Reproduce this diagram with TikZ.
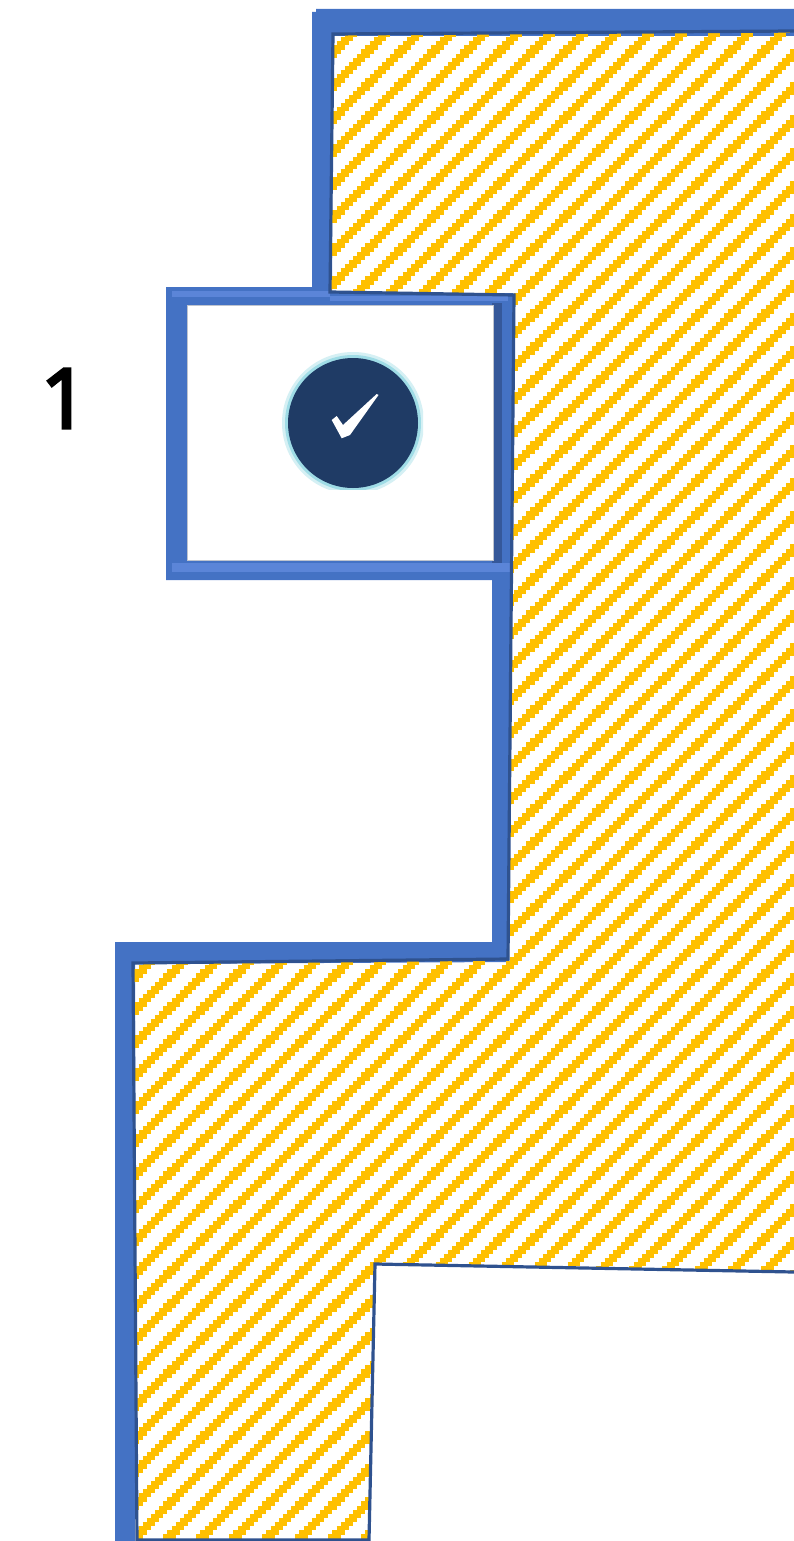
\documentclass[tikz,border=0pt]{standalone}
\usepackage{fontspec}
\setmainfont{Open Sans}
\definecolor{bluefill}{HTML}{4472C4}
\definecolor{blueline}{HTML}{2F528F}
\definecolor{stripe}{HTML}{FFC000}
\definecolor{boxlight}{HTML}{5B85D8}
\definecolor{boxdark}{HTML}{35589A}
\definecolor{navy}{HTML}{1F3B65}
\definecolor{halo}{HTML}{9FDCE6}
\definecolor{halosoft}{HTML}{D5F0F4}
\definecolor{softedge}{HTML}{BFC4CE}
\tikzset{
  wall/.style={fill=bluefill,draw=none},
  outline/.style={draw=blueline,line width=3.2pt,line join=miter},
}
\begin{document}
\begin{tikzpicture}[x=1pt,y=-1pt]
\useasboundingbox (0,0) rectangle (794,1541);
% walls
\fill[wall] (316,9) -- (794,9) -- (794,36) -- (332,36) -- (332,292) -- (312,292) -- (312,12) -- (316,12) -- cycle;
\fill[wall] (492,570) -- (512,570) -- (509,962) -- (135,964) -- (135,1541) -- (115,1541) -- (115,942) -- (492,942) -- cycle;
% hatched area: each pixel row of the staircase stripes is a dashed horizontal line
\begin{scope}
\clip (333,34) -- (794,31) -- (794,1272) -- (375,1264) -- (369,1540) -- (137,1540) -- (133,963) -- (508,959) -- (514,295) -- (330,292) -- cycle;
\foreach \r in {0,...,374} {
  \pgfmathsetmacro{\ph}{mod(\r*4.125+8.25-386+3300,33)}
  \pgfmathsetmacro{\yy}{(\r+0.5)*4.125}
  \draw[stripe,line width=4.2pt,dash pattern=on 12.375pt off 20.625pt,dash phase=\ph pt] (0,\yy) -- (794,\yy);
}
\end{scope}
% box
\fill[bluefill] (166,287) -- (330,287) -- (330,293) -- (513,293) -- (512,580) -- (166,580) -- cycle;
\fill[boxlight] (172,291) rectangle (330,297);
\fill[boxlight] (330,296) rectangle (508,301);
\fill[boxlight] (172,563) rectangle (510,572);
\fill[boxdark] (492,303) rectangle (502,563);
\fill[white,draw=softedge,line width=1pt] (187,305) rectangle (493,560);
% outlines
\draw[outline] (794,31) -- (333,34) -- (330,292) -- (514,295) -- (508,959) -- (133,963) -- (137,1541);
\draw[outline] (794,1272) -- (375,1264) -- (369,1540) -- (137,1540);
% check badge
\begin{scope}
\clip (270,340) rectangle (423,489);
\fill[halosoft] (353,423) circle (71);
\fill[halo] (353,423) circle (68);
\fill[navy] (353,423) circle (65);
\end{scope}
\fill[white] (331.7,420) -- (336.7,416) -- (343,425) -- (376.7,394) -- (378.5,395) -- (350,435) -- (341.7,438.3) -- cycle;
% label
\node[font=\fontsize{83}{83}\selectfont,inner sep=0pt,text=black] (lab) at (64.5,398.5) {\special{pdf:code 2 Tr 3.2 w}1\special{pdf:code 0 Tr 1 w}};
\end{tikzpicture}
\end{document}
